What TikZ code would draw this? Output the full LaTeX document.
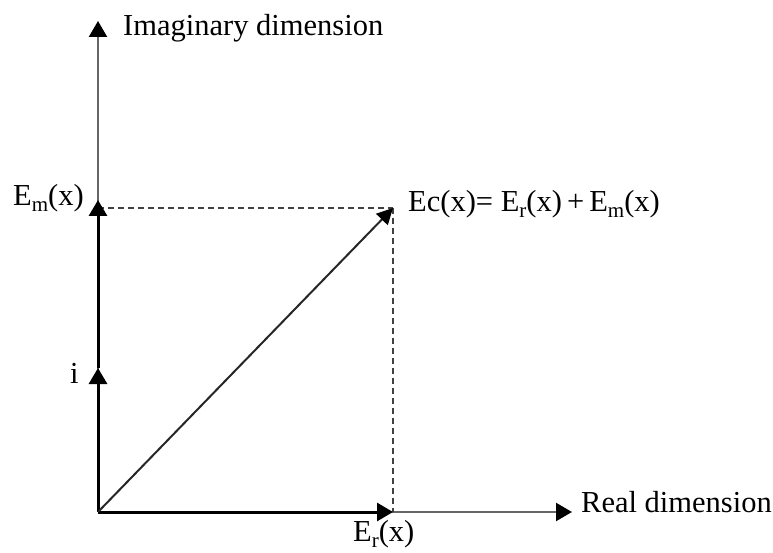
\documentclass[tikz,border=0pt]{standalone}
\usepackage{fontspec}
\setmainfont{Liberation Serif}
\usetikzlibrary{arrows.meta}
\newcommand\lowsub[1]{\raisebox{-6pt}{\fontsize{21}{24}\selectfont #1}}
\begin{document}
\begin{tikzpicture}[x=1pt,y=1pt,
  lbl/.style={inner sep=0pt,font=\fontsize{30.5}{36}\selectfont},
  axisline/.style={draw=black!60,line width=2.2pt,-{Triangle[width=18pt,length=16pt,color=black]}},
  vec/.style={draw=black,line width=3pt,-{Triangle[width=18pt,length=16pt,color=black]}},
  diag/.style={draw=black!85,line width=2pt,-{Triangle[width=16pt,length=16pt,color=black]}},
  guide/.style={draw=black!75,line width=2.2pt,dash pattern=on 6pt off 4pt}]
\useasboundingbox (0,0) rectangle (773,552);
\coordinate (O) at (98,40);
\coordinate (Ytop) at (98,531);
\coordinate (Xend) at (572,40);
\coordinate (Em) at (98,352);
\coordinate (Emd) at (98,344);
\coordinate (I) at (98,184);
\coordinate (Er) at (393,40);
\coordinate (P) at (393,344);
% axes
\draw[axisline] (O) -- (Ytop);
\draw[axisline] (O) -- (Xend);
% dashed guides
\draw[guide] (Emd) -- (P);
\draw[guide] (P) -- (Er);
% vectors
\draw[vec] (O) -- (I);
\draw[vec] (I) -- (Em);
\draw[vec] (O) -- (Er);
\draw[diag] (O) -- (P);
% labels
\node[lbl,anchor=base west] (tImag) at (123,516) {Imaginary dimension};
\node[lbl,anchor=base west] (tReal) at (581,40) {Real dimension};
\node[lbl,anchor=base west] (tEm) at (13,346) {E\lowsub{m}(x)};
\node[lbl,anchor=base west] (tEc) at (408,340) {Ec(x)= E\lowsub{r}(x)\,+\,E\lowsub{m}(x)};
\node[lbl,anchor=base west] (tEr) at (353,11) {E\lowsub{r}(x)};
\node[lbl,anchor=base west] (tI) at (70,169) {i};
\end{tikzpicture}
\end{document}
